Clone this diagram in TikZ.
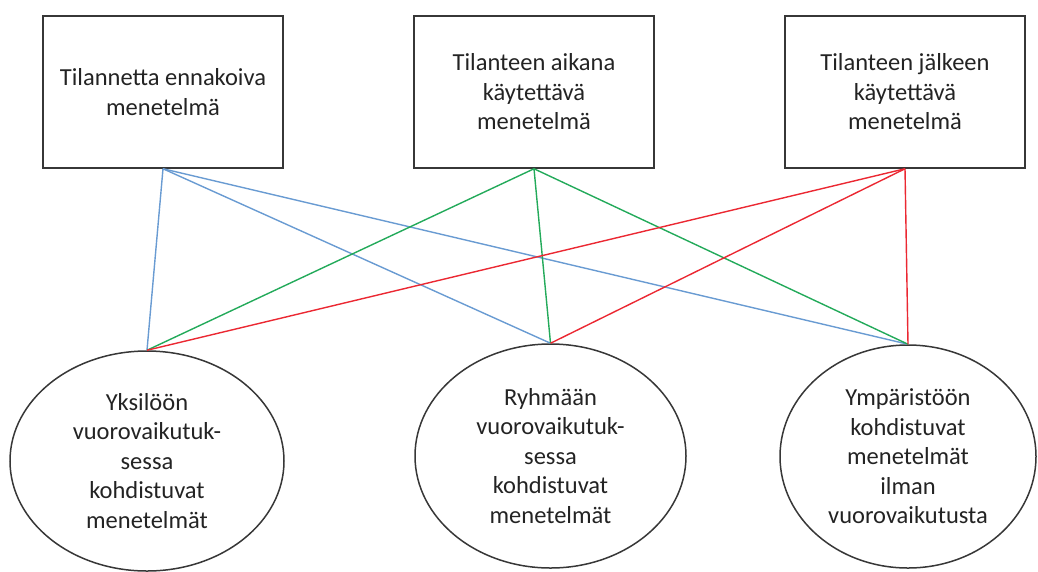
\documentclass[tikz,border=0pt]{standalone}
\usepackage{fontspec}
\setmainfont{Carlito}
\usetikzlibrary{shapes.geometric}
\definecolor{txt}{RGB}{35,35,35}
\definecolor{edgegray}{RGB}{55,55,55}
\definecolor{lblue}{RGB}{105,155,210}
\definecolor{lgreen}{RGB}{35,170,90}
\definecolor{lred}{RGB}{235,40,50}
\tikzset{
  every node/.style={text=txt, font=\fontsize{24.5}{29.5}\selectfont, align=center, inner sep=0pt},
  methbox/.style={draw=edgegray, line width=1.5pt, rectangle, minimum width=240pt, minimum height=152pt},
  targetell/.style={draw=edgegray, line width=1.5pt, ellipse},
  conn/.style={line width=1.4pt},
}
\begin{document}
\begin{tikzpicture}[x=1pt,y=-1pt]
\useasboundingbox (0,0) rectangle (1038,571);
\node[methbox] (b1) at (163,92) {Tilannetta ennakoiva\\menetelmä};
\node[methbox] (b2) at (534,92) {Tilanteen aikana\\käytettävä\\menetelmä};
\node[methbox] (b3) at (905,92) {Tilanteen jälkeen\\käytettävä\\menetelmä};
\node[targetell, minimum width=274pt, minimum height=220pt] (e1) at (147,461) {Yksilöön\\vuorovaikutuk-\\sessa\\kohdistuvat\\menetelmät};
\node[targetell, minimum width=271pt, minimum height=224pt] (e2) at (550.5,456) {Ryhmään\\vuorovaikutuk-\\sessa\\kohdistuvat\\menetelmät};
\node[targetell, minimum width=256pt, minimum height=223pt] (e3) at (908,456.5) {Ympäristöön\\kohdistuvat\\menetelmät\\ilman\\vuorovaikutusta};
\draw[conn, lblue] (b1.south) -- (e1.north);
\draw[conn, lblue] (b1.south) -- (e2.north);
\draw[conn, lblue] (b1.south) -- (e3.north);
\draw[conn, lgreen] (b2.south) -- (e1.north);
\draw[conn, lgreen] (b2.south) -- (e2.north);
\draw[conn, lgreen] (b2.south) -- (e3.north);
\draw[conn, lred] (b3.south) -- (e1.north);
\draw[conn, lred] (b3.south) -- (e2.north);
\draw[conn, lred] (b3.south) -- (e3.north);
\end{tikzpicture}
\end{document}
